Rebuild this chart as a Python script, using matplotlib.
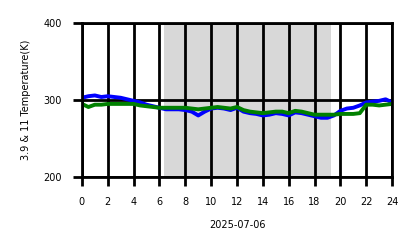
import matplotlib
matplotlib.use("Agg")
import matplotlib.pyplot as plt
import numpy as np

hours = np.arange(0, 24.01, 0.5)
temp_39 = [303, 305, 306, 304, 305, 304, 303, 301, 299, 297, 294, 292,
           290, 288, 288, 288, 287, 285, 280, 285, 289, 290, 289, 287,
           290, 285, 283, 282, 280, 281, 283, 282, 280, 284, 283, 281,
           279, 277, 277, 280, 286, 289, 290, 293, 297, 298, 299, 301, 297]
temp_11 = [295, 291, 294, 294, 295, 295, 295, 295, 295, 293, 292, 291,
           290, 290, 290, 290, 290, 289, 288, 289, 290, 291, 290, 289,
           291, 287, 285, 284, 283, 284, 285, 285, 283, 286, 285, 283,
           281, 281, 281, 281, 282, 282, 282, 283, 294, 294, 293, 294, 295]
day_start, day_end = 6.33, 19.25

fig = plt.figure(figsize=(4.18, 2.48), dpi=100)
ax = fig.add_axes([0.196, 0.286, 0.742, 0.621])

ax.axvspan(day_start, day_end, color='gray', alpha=0.3, lw=0)
ax.plot(hours, temp_39, color='blue', lw=2.8)
ax.plot(hours, temp_11, color='green', lw=2.8)

ax.set_xlim(0, 24)
ax.set_ylim(200, 400)
ax.set_xticks(np.arange(0, 25, 2))
ax.set_yticks([200, 300, 400])
ax.grid(True, color='black', lw=2)
for s in ax.spines.values():
    s.set_linewidth(2)
ax.tick_params(labelsize=7, length=6.5, width=2, pad=8)
ax.set_xlabel('2025-07-06', fontsize=7, labelpad=9)
ax.set_ylabel('3.9 & 11 Temperature(K)', fontsize=7, labelpad=9)

fig.savefig('out.png', dpi=100)
